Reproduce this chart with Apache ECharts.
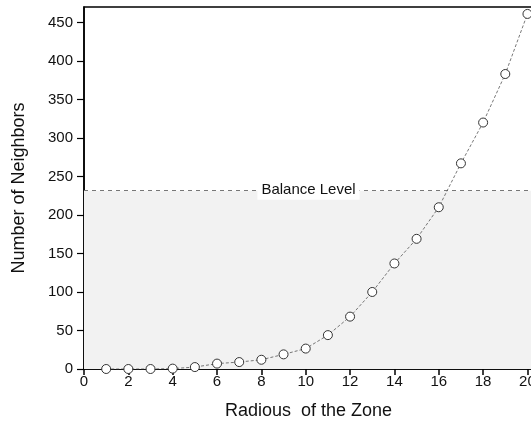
<!DOCTYPE html>
<html>
<head>
<meta charset="utf-8">
<script src="https://cdn.jsdelivr.net/npm/echarts@6/dist/echarts.min.js"></script>
<style>
html,body{margin:0;padding:0;background:#fff;}
#chart{width:531px;height:430px;}
</style>
</head>
<body>
<div id="chart"></div>
<script>
var radius = [1,2,3,4,5,6,7,8,9,10,11,12,13,14,15,16,17,18,19,20];
var neighbors = [0,0,0,0.5,2.5,7,9,12,19,26.5,44,68,100,137,169,210,267,320,383,461];
var balanceLevel = 231.5;
var balanceLabel = 'Balance Level';
var yTicks = [0,50,100,150,200,250,300,350,400,450];
var xTicks = [0,2,4,6,8,10,12,14,16,18,20];
var xTitle = 'Radious  of the Zone';
var yTitle = 'Number of Neighbors';

var FONT = '"Liberation Sans", Arial, sans-serif';
var chart = echarts.init(document.getElementById('chart'), null, {renderer:'canvas'});
chart.setOption({
  animation:false,
  backgroundColor:'#fff',
  grid:{left:84, top:7, right:-2, bottom:61, containLabel:false, outerBoundsMode:'none',
        show:true, borderColor:'#000', borderWidth:1.5, backgroundColor:'transparent'},
  xAxis:{
    type:'value', min:0, max:20.25,
    name:xTitle, nameLocation:'middle', nameGap:33,
    nameTextStyle:{fontFamily:FONT, fontSize:18, color:'#111'},
    axisLine:{show:true, onZero:false, lineStyle:{color:'#000', width:1.5}},
    axisTick:{show:true, inside:false, length:6, customValues:xTicks, lineStyle:{color:'#000', width:1.5}},
    axisLabel:{customValues:xTicks, fontFamily:FONT, fontSize:15, color:'#111', margin:5, hideOverlap:false},
    splitLine:{show:false}
  },
  yAxis:{
    type:'value', min:0, max:470,
    name:yTitle, nameLocation:'middle', nameGap:56, nameRotate:90,
    nameTextStyle:{fontFamily:FONT, fontSize:18, color:'#111'},
    axisLine:{show:true, lineStyle:{color:'#000', width:1.5}},
    axisTick:{show:true, inside:false, length:7, customValues:yTicks, lineStyle:{color:'#000', width:1.2}},
    axisLabel:{customValues:yTicks, fontFamily:FONT, fontSize:15, color:'#111', margin:11},
    splitLine:{show:false}
  },
  series:[{
    type:'line',
    data:radius.map(function(r,i){return [r, neighbors[i]];}),
    symbol:'circle', symbolSize:9,
    itemStyle:{color:'#fff', borderColor:'#333', borderWidth:1},
    lineStyle:{color:'#555', width:0.8, type:[3,2]},
    z:5,
    markArea:{
      silent:true,
      itemStyle:{color:'#f2f2f2'},
      data:[[{yAxis:0},{yAxis:balanceLevel}]]
    },
    markLine:{
      silent:true, symbol:'none',
      lineStyle:{color:'#777', type:[4,4], width:1},
      label:{show:true, position:'middle', formatter:balanceLabel, distance:-9,
        fontFamily:FONT, fontSize:15, color:'#111',
        backgroundColor:'#fff', padding:[2,4]},
      data:[{yAxis:balanceLevel}]
    }
  }]
});
</script>
</body>
</html>
